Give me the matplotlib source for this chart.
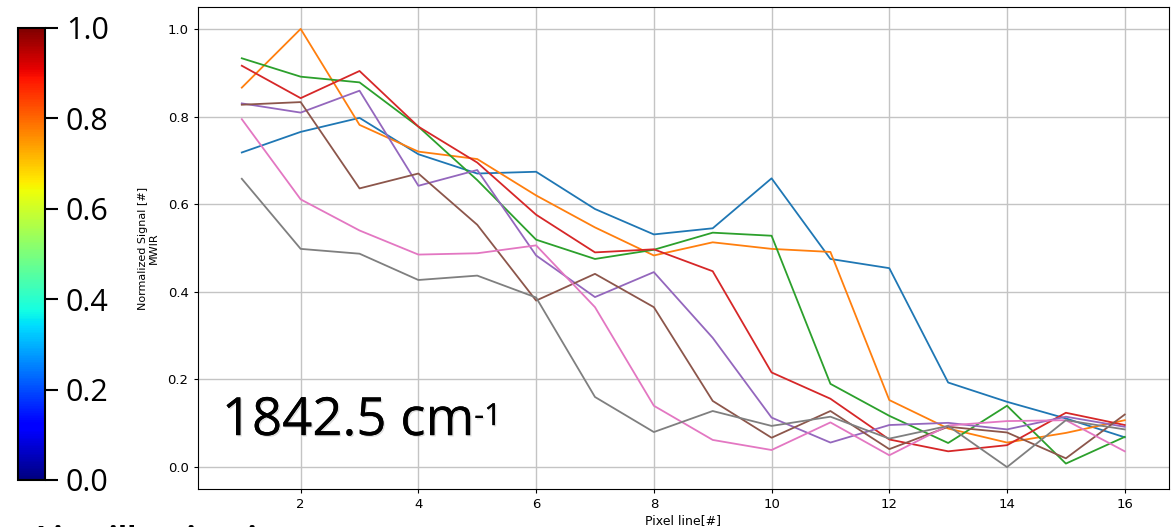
import matplotlib.pyplot as plt
import matplotlib.patheffects as pe
import numpy as np
from matplotlib.cm import ScalarMappable
from matplotlib.colors import Normalize

# pixel line index along the slit
pixel_line = np.arange(1, 17)

# normalized MWIR signal, one trace per measurement
sig_blue = [0.718, 0.765, 0.797, 0.714, 0.670, 0.674, 0.589, 0.531,
            0.545, 0.659, 0.475, 0.454, 0.193, 0.149, 0.111, 0.068]
sig_orange = [0.866, 1.000, 0.781, 0.720, 0.703, 0.620, 0.547, 0.483,
              0.513, 0.498, 0.491, 0.153, 0.088, 0.056, 0.078, 0.107]
sig_green = [0.933, 0.891, 0.878, 0.777, 0.655, 0.519, 0.475, 0.496,
             0.535, 0.528, 0.190, 0.117, 0.055, 0.140, 0.008, 0.069]
sig_red = [0.916, 0.842, 0.904, 0.777, 0.695, 0.576, 0.490, 0.497,
           0.447, 0.216, 0.156, 0.063, 0.036, 0.050, 0.124, 0.096]
sig_purple = [0.830, 0.809, 0.859, 0.642, 0.678, 0.483, 0.388, 0.445,
              0.295, 0.113, 0.056, 0.096, 0.101, 0.086, 0.115, 0.092]
sig_brown = [0.827, 0.833, 0.636, 0.670, 0.553, 0.380, 0.441, 0.365,
             0.151, 0.067, 0.128, 0.041, 0.092, 0.079, 0.020, 0.120]
sig_pink = [0.794, 0.611, 0.540, 0.485, 0.488, 0.506, 0.365, 0.140,
            0.062, 0.039, 0.102, 0.027, 0.095, 0.105, 0.107, 0.036]
sig_gray = [0.658, 0.498, 0.487, 0.427, 0.437, 0.387, 0.160, 0.080,
            0.128, 0.094, 0.115, 0.065, 0.094, 0.000, 0.107, 0.086]

traces = [
    (sig_blue, 'tab:blue'),
    (sig_orange, 'tab:orange'),
    (sig_green, 'tab:green'),
    (sig_red, 'tab:red'),
    (sig_purple, 'tab:purple'),
    (sig_brown, 'tab:brown'),
    (sig_pink, 'tab:pink'),
    (sig_gray, 'tab:gray'),
]

wavenumber = '1842.5'
cbar_ticks = [0.0, 0.2, 0.4, 0.6, 0.8, 1.0]

fig = plt.figure(figsize=(11.73, 5.27), dpi=100)

# main line plot
ax = fig.add_axes([0.1685, 0.0721, 0.828, 0.9146])
for sig, col in traces:
    ax.plot(pixel_line, sig, color=col, linewidth=1.3)
ax.set_xlim(0.25, 16.75)
ax.set_ylim(-0.05, 1.05)
ax.set_xticks(np.arange(2, 17, 2))
ax.set_yticks([0.0, 0.2, 0.4, 0.6, 0.8, 1.0])
ax.tick_params(labelsize=9.5, length=3)
ax.grid(True, color='#c4c4c4', linewidth=1.0)
ax.set_xlabel('Pixel line[#]', fontsize=9, labelpad=2)
ax.set_ylabel('Normalized Signal [#]\nMWIR', fontsize=8, labelpad=6)

# wavenumber label inside the axes, with a small raised exponent
shadow = [pe.withSimplePatchShadow(offset=(1, -1), shadow_rgbFace='gray', alpha=0.25),
          pe.Normal()]
wn = ax.text(0.66, 0.073, wavenumber + ' cm', fontsize=38,
             family='Open Sans', color='black', path_effects=shadow)
ax.annotate('-1', xy=(1.0, 0.86), xycoords=wn, ha='left', va='top',
            fontsize=22, family='Open Sans', color='black',
            path_effects=shadow)

# colour scale on the left
cax = fig.add_axes([0.0153, 0.0892, 0.023, 0.8577])
sm = ScalarMappable(norm=Normalize(0, 1), cmap='jet')
cb = fig.colorbar(sm, cax=cax, ticks=cbar_ticks)
cb.ax.set_yticklabels(['%.1f' % t for t in cbar_ticks],
                      fontsize=22, family='Open Sans')
cb.ax.tick_params(length=9, width=1.5, pad=6)
cb.outline.set_linewidth(1.5)

# heading of the next panel, cut by the bottom edge
fig.text(0.031, -0.04, 'Line illumination', fontsize=22,
         fontweight='bold', family='Open Sans', va='baseline')

fig.savefig('out.png', dpi=100)
